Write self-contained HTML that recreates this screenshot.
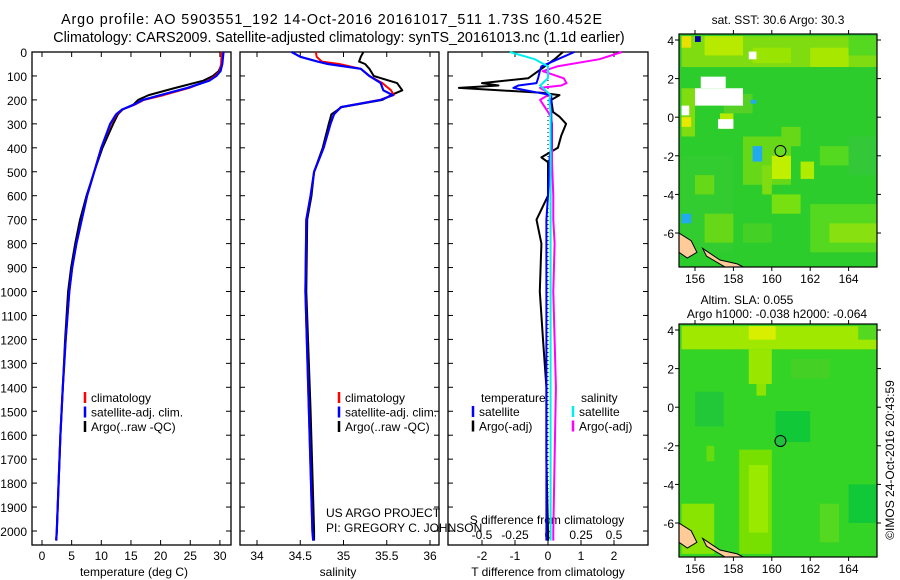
<!DOCTYPE html>
<html><head><meta charset="utf-8">
<style>
html,body{margin:0;padding:0;background:#fff;}
svg{display:block;font-family:"Liberation Sans",sans-serif;}
text{fill:#000;}
</style></head>
<body>
<svg id="chart" width="900" height="580" viewBox="0 0 900 580" xmlns="http://www.w3.org/2000/svg">
<text x="332" y="24" font-size="14.3" letter-spacing="0.9" text-anchor="middle">Argo profile: AO 5903551_192 14-Oct-2016 20161017_511 1.73S 160.452E</text>
<text x="339" y="42" font-size="14.3" text-anchor="middle">Climatology: CARS2009. Satellite-adjusted climatology: synTS_20161013.nc (1.1d earlier)</text>
<g id="g1"></g>
<g id="g2"></g>
<g id="g3"></g>
<g id="m1"></g>
<g id="m2"></g>
<text x="326" y="517" font-size="12">US ARGO PROJECT</text>
<text x="326" y="532" font-size="12">PI: GREGORY C. JOHNSON</text>
<text x="778" y="24" font-size="12" text-anchor="middle">sat. SST: 30.6 Argo: 30.3</text>
<text x="747" y="304" font-size="12" text-anchor="middle">Altim. SLA: 0.055</text>
<text x="777" y="318" font-size="12" text-anchor="middle">Argo h1000: -0.038 h2000: -0.064</text>
<text transform="translate(894,460) rotate(-90)" font-size="12" text-anchor="middle">©IMOS 24-Oct-2016 20:43:59</text>
</svg>
<script>
// ---- profile data ----
const depthT = [0,50,80,100,120,150,180,200,220,240,260,300,400,500,600,700,800,900,1000,1200,1400,1600,1800,2000,2040];
const tempClim = [30.3,30.2,30.0,29.2,28.0,24.8,20.5,17.2,15.6,13.6,12.6,11.6,10.0,8.8,7.6,6.7,5.8,5.1,4.6,4.0,3.5,3.1,2.8,2.5,2.4];
const tempSat  = [30.6,30.4,30.1,29.4,28.2,24.5,20.0,17.0,15.5,13.5,12.5,11.5,10.0,8.8,7.6,6.7,5.8,5.1,4.6,4.0,3.5,3.1,2.8,2.5,2.4];
const tempArgo = [30.4,30.3,29.8,28.8,27.2,22.5,18.0,16.2,15.4,13.6,12.8,12.0,10.2,8.8,7.5,6.4,5.6,4.9,4.4,3.9,3.5,3.1,2.8,2.5,2.4];
const depthS = [0,20,40,50,70,100,130,160,180,200,230,260,300,400,500,600,700,1000,1500,2000,2040];
const salClim = [34.68,34.69,34.75,34.95,35.2,35.3,35.45,35.55,35.58,35.42,34.97,34.89,34.85,34.77,34.66,34.62,34.57,34.56,34.6,34.64,34.65];
const salSat  = [34.40,34.50,34.70,34.82,35.2,35.3,35.43,35.46,35.57,35.43,34.97,34.89,34.85,34.77,34.66,34.62,34.57,34.56,34.6,34.64,34.65];
const salArgo = [35.23,35.2,35.18,35.25,35.3,35.35,35.62,35.68,35.55,35.45,34.98,34.86,34.83,34.76,34.66,34.63,34.58,34.57,34.62,34.66,34.66];
const depthD = [0,30,60,80,110,130,140,150,170,180,200,250,270,300,350,400,440,460,600,700,800,1000,1200,1400,1700,2000,2040];
const dTsat  = [0.8,0.3,-0.2,-0.25,-0.3,-0.35,-0.9,-1.05,-0.3,0.1,0.1,0.1,0.1,0.1,0.1,0.1,0.05,0.05,0.0,-0.05,-0.05,-0.05,-0.05,-0.05,-0.05,-0.05,-0.05];
const dTargo = [0.45,0.2,-0.1,-0.3,-0.6,-2.0,-1.5,-2.7,-0.2,0.35,0.1,0.15,0.35,0.55,0.4,0.3,-0.2,0.0,0.0,-0.35,-0.2,-0.25,-0.15,-0.05,-0.05,0.0,0.0];
const dSsat  = [-0.29,-0.1,0.0,0.0,0.0,-0.04,-0.06,-0.04,0.0,0.02,0.01,0.02,0.02,0.02,0.02,0.02,0.02,0.02,0.02,0.02,0.02,0.02,0.02,0.02,0.02,0.02,0.02];
const dSargo = [0.56,0.39,0.07,-0.04,0.12,0.14,0.1,-0.06,0.0,0.0,-0.06,0.0,0.02,0.03,0.03,0.03,0.03,0.03,0.04,0.04,0.05,0.04,0.05,0.06,0.05,0.04,0.04];
const yTicks = [0,100,200,300,400,500,600,700,800,900,1000,1100,1200,1300,1400,1500,1600,1700,1800,1900,2000];
const tTicks = [0,5,10,15,20,25,30];
const sTicks = [34,34.5,35,35.5,36];
const dTTicks = [-2,-1,0,1,2];
const dSTicks = [-0.5,-0.25,0,0.25,0.5];
const lonTicks = [156,158,160,162,164];
const latTicks = [4,2,0,-2,-4,-6];

const NS='http://www.w3.org/2000/svg';
function mk(parent,tag,attrs,txt){const e=document.createElementNS(NS,tag);for(const k in attrs)e.setAttribute(k,attrs[k]);if(txt!==undefined)e.textContent=txt;parent.appendChild(e);return e;}
const TOP=52, BOT=545;
const yD = d => TOP + 0.2395*d;
const xT = v => 42 + 5.93*v;
const xS = v => 257 + 86.5*(v-34);
const xDT = v => 548 + 33*v;
const xDS = v => 548 + 132*v;

function frame(g,x0,x1){
  const r=mk(g,'rect',{x:x0,y:TOP,width:x1-x0,height:BOT-TOP,fill:'none',stroke:'#000','stroke-width':1.3});
  
  
  yTicks.forEach(d=>{
    const y=yD(d);
    mk(g,'line',{x1:x0,x2:x0+5,y1:y,y2:y,stroke:'#000'});
    mk(g,'line',{x1:x1,x2:x1-5,y1:y,y2:y,stroke:'#000'});
  });
}
function xaxis(g,ticks,fx,ylab,label,lx){
  ticks.forEach(v=>{
    const x=fx(v);
    mk(g,'line',{x1:x,x2:x,y1:BOT,y2:BOT-5,stroke:'#000'});
    mk(g,'line',{x1:x,x2:x,y1:TOP,y2:TOP+5,stroke:'#000'});
    const t=mk(g,'text',{x:x,y:ylab,'font-size':12,'text-anchor':'middle'},String(v));
    
    
  });
  if(label){const t=mk(g,'text',{x:lx,y:576,'font-size':12,'text-anchor':'middle'},label);
    
    }
}
function line(g,depths,vals,fx,color,w,name){
  const pts=depths.map((d,i)=>fx(vals[i]).toFixed(1)+','+yD(d).toFixed(1)).join(' ');
  const p=mk(g,'polyline',{points:pts,fill:'none',stroke:color,'stroke-width':w,'stroke-linejoin':'round'});
  
  
}
function legend(g,x,y,items){
  items.forEach((it,i)=>{
    const yy=y+i*14.5;
    mk(g,'line',{x1:x,x2:x,y1:yy-10,y2:yy+1,stroke:it[1],'stroke-width':2.5});
    const t=mk(g,'text',{x:x+6,y:yy,'font-size':12},it[0]);
    
    
  });
}
// panel 1
const g1=document.getElementById('g1');
frame(g1,32,231);
yTicks.forEach(d=>{const t=mk(g1,'text',{x:27,y:yD(d)+5,'font-size':12,'text-anchor':'end'},String(d));
  
  });
xaxis(g1,tTicks,xT,560,'temperature (deg C)',134);
line(g1,depthT,tempArgo,xT,'#000',2,'argo-temperature-line');
line(g1,depthT,tempClim,xT,'#f00',2,'clim-temperature-line');
line(g1,depthT,tempSat,xT,'#00f',2.2,'sat-temperature-line');
legend(g1,85,402,[['climatology','#f00'],['satellite-adj. clim.','#00f'],['Argo(..raw -QC)','#000']]);
// panel 2
const g2=document.getElementById('g2');
frame(g2,240,439);
xaxis(g2,sTicks,xS,560,'salinity',338);
line(g2,depthS,salArgo,xS,'#000',2,'argo-salinity-line');
line(g2,depthS,salClim,xS,'#f00',2,'clim-salinity-line');
line(g2,depthS,salSat,xS,'#00f',2.2,'sat-salinity-line');
legend(g2,339,402,[['climatology','#f00'],['satellite-adj. clim.','#00f'],['Argo(..raw -QC)','#000']]);
// panel 3
const g3=document.getElementById('g3');
frame(g3,448,648);
xaxis(g3,dTTicks,xDT,560,'T difference from climatology',548);
dSTicks.forEach(v=>{const t=mk(g3,'text',{x:xDS(v),y:539,'font-size':12,'text-anchor':'middle'},String(v));
  
  });
const st=mk(g3,'text',{x:547,y:524,'font-size':12,'text-anchor':'middle'},'S difference from climatology');


mk(g3,'line',{x1:548,x2:548,y1:TOP,y2:BOT,stroke:'#000','stroke-dasharray':'1,3'});
line(g3,depthD,dTargo,xDT,'#000',2,'argo-t-diff-line');
line(g3,depthD,dSargo,xDS,'#f0f',2,'argo-s-diff-line');
line(g3,depthD,dTsat,xDT,'#00f',2,'sat-t-diff-line');
line(g3,depthD,dSsat,xDS,'#0ee',2,'sat-s-diff-line');
const lt1=mk(g3,'text',{x:481,y:402,'font-size':12},'temperature');


const lt2=mk(g3,'text',{x:581,y:402,'font-size':12},'salinity');


legend(g3,473,416,[['satellite','#00f'],['Argo(-adj)','#000']]);
legend(g3,573,416,[['satellite','#0ee'],['Argo(-adj)','#f0f']]);

// ---- maps ----
const sstPatches = [ // lon0,lat0,lon1,lat1,color
 [155.3,4.2,165.5,2.6,'#7fdc10'],[156.5,4.2,158.5,3.2,'#b8ea00'],[155.3,4.2,155.8,3.6,'#e8e000'],
 [162,3.6,164,2.6,'#a8e800'],[159,3.6,161,2.8,'#99e400'],[164,4.2,165.5,3.2,'#55d820'],
 [155.3,1.5,156,-1.0,'#7fdc10'],[155.3,0.0,155.8,-0.5,'#e8e800'],
 [157.3,0.2,158,-0.6,'#b8ea00'],[158.5,-1,161,-3.5,'#66d818'],[160,-2.0,161,-3.2,'#c0f000'],
 [161.5,-2.3,162.2,-3.2,'#b0ec00'],[162,-4.5,165.5,-7,'#55d820'],[163,-5.5,165.5,-6.5,'#88e010'],
 [155.3,-2,158,-7,'#33cc30'],[156.5,-5,158,-6.5,'#66d818'],[159.5,-2.5,160,-4,'#7fdc10'],
 [161.5,-0.5,165.5,1.5,'#11c048'],[164,-1,165.5,-3,'#33c838'],[159,-1.5,159.5,-2.3,'#22aaee'],
 [157.5,1.2,159,0.2,'#55d024'],[160.5,-0.5,161.5,-1.5,'#66d818'],[162.5,-1.5,164,-2.5,'#55d820'],
 [160,-4,161.5,-5,'#77e010'],[158.5,-5.5,160,-6.5,'#44d024'],[156,-3,157,-4,'#66d818'],
 [155.3,-5,155.8,-5.5,'#22aaee'],[158.9,0.9,159.2,0.7,'#22aaee'],
 [156.3,2.1,157.6,1.5,'#ffffff'],[156,1.5,158.5,0.6,'#ffffff'],[157.2,-0.1,158,-0.6,'#ffffff'],
 [158.8,3.4,159.2,3.0,'#ffffff'],[155.3,0.6,155.7,0.1,'#ffffff'],[156,4.2,156.3,3.9,'#0000aa']
];
const slaPatches = [
 [155.3,4.2,165.5,3.0,'#a0e800'],[158.8,4.2,160.2,3.5,'#d8f000'],[158.8,3.0,160,1.2,'#99e600'],
 [159.2,1.2,159.7,0.6,'#8ee400'],[160.2,-0.2,162,-1.8,'#11c838'],[156,0.8,157.5,-1,'#22c838'],
 [158.3,-2.2,160,-7.6,'#77e000'],[158.8,-3,159.8,-6.5,'#99ea00'],[155.3,-5,157,-7.6,'#88e400'],
 [156.6,-2.0,157,-2.8,'#66dc10'],[162.5,-5,163.5,-7,'#55d820'],[164,-4,165.5,-6,'#11c838'],
 [164.5,4.2,165.5,3.5,'#55d820'],[161,2.5,163,1.5,'#44d024']
];
const circleLon = 160.45, circleLat = -1.75;
function map(id,y0,patches,base,circleFill){
  const g=document.getElementById(id);
  const X0=679,X1=877,Y1=y0+233;
  const fx=l=>695+19.2*(l-156), fy=la=>y0+6+19.3*(4-la);
  mk(g,'rect',{x:X0,y:y0,width:X1-X0,height:Y1-y0,fill:base});
  const cp='cp'+id;
  const c=mk(g,'clipPath',{id:cp});mk(c,'rect',{x:X0,y:y0,width:X1-X0,height:Y1-y0});
  const inner=mk(g,'g',{'clip-path':'url(#'+cp+')'});
  patches.forEach(p=>{
    const r=mk(inner,'rect',{x:fx(p[0]),y:fy(p[1]),width:fx(p[2])-fx(p[0]),height:fy(p[3])-fy(p[1]),fill:p[4]});
    
    
  });
  const land=mk(inner,'path',{d:`M${X0} ${fy(-6)} L${fx(155.8)} ${fy(-6.4)} L${fx(156.1)} ${fy(-7)} L${fx(155.6)} ${fy(-7.3)} L${X0} ${fy(-7)} Z M${fx(156.4)} ${fy(-6.8)} L${fx(157.3)} ${fy(-7.4)} L${fx(158.2)} ${fy(-7.6)} L${fx(158.8)} ${fy(-7.9)} L${fx(157.8)} ${fy(-7.9)} L${fx(156.6)} ${fy(-7.2)} Z`,fill:'#ffcc99',stroke:'#000','stroke-width':1});
  
  
  mk(g,'rect',{x:X0,y:y0,width:X1-X0,height:Y1-y0,fill:'none',stroke:'#000','stroke-width':1.2});
  const ci=mk(g,'circle',{cx:fx(circleLon),cy:fy(circleLat),r:5.5,fill:circleFill,stroke:'#000','stroke-width':1});
  
  
  lonTicks.forEach(l=>{const x=fx(l);
    mk(g,'line',{x1:x,x2:x,y1:y0,y2:y0-4,stroke:'#000'});mk(g,'line',{x1:x,x2:x,y1:Y1,y2:Y1+4,stroke:'#000'});
    const t=mk(g,'text',{x:x,y:Y1+16,'font-size':12,'text-anchor':'middle'},String(l));
    
    });
  latTicks.forEach(la=>{const y=fy(la);
    mk(g,'line',{x1:X0,x2:X0-4,y1:y,y2:y,stroke:'#000'});mk(g,'line',{x1:X1,x2:X1+4,y1:y,y2:y,stroke:'#000'});
    const t=mk(g,'text',{x:X0-5,y:y+5,'font-size':12,'text-anchor':'end'},String(la));
    
    });
}
map('m1',34,sstPatches,'#2ccc2c','#66dd22');
map('m2',324,slaPatches,'#33d426','#22c040');
</script>
</body></html>
